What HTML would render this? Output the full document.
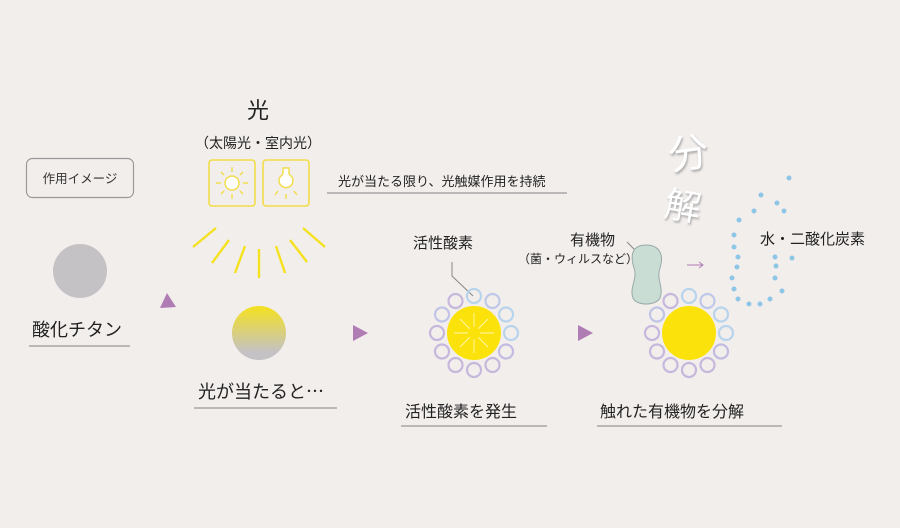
<!DOCTYPE html>
<html><head><meta charset="utf-8"><style>
html,body{margin:0;padding:0;background:#f2eeec;}
svg{display:block;font-family:"Liberation Sans","Noto Sans CJK JP",sans-serif;}
</style></head><body>
<svg width="900" height="528" viewBox="0 0 900 528" xmlns="http://www.w3.org/2000/svg">
<defs>
<linearGradient id="g1" x1="0" y1="0" x2="0" y2="1"><stop offset="0" stop-color="#f5e11e"/><stop offset="0.85" stop-color="#c4c2c4"/></linearGradient>
<g id="ring">
 <g fill="none" stroke-width="2.2">
 <circle cx="0" cy="-37" r="7" stroke="#b8d3ec"/>
 <circle cx="18.5" cy="-32" r="7" stroke="#c0c8ea"/>
 <circle cx="32" cy="-18.5" r="7" stroke="#b8d3ec"/>
 <circle cx="37" cy="0" r="7" stroke="#b8d3ec"/>
 <circle cx="32" cy="18.5" r="7" stroke="#c3bce2"/>
 <circle cx="18.5" cy="32" r="7" stroke="#c6b8dc"/>
 <circle cx="0" cy="37" r="7" stroke="#c6b8dc"/>
 <circle cx="-18.5" cy="32" r="7" stroke="#c6b8dc"/>
 <circle cx="-32" cy="18.5" r="7" stroke="#c6b8dc"/>
 <circle cx="-37" cy="0" r="7" stroke="#c6b8dc"/>
 <circle cx="-32" cy="-18.5" r="7" stroke="#c0c4e6"/>
 <circle cx="-18.5" cy="-32" r="7" stroke="#c6b8dc"/>
 </g>
 <circle cx="0" cy="0" r="27" fill="#fbe20a"/>
</g>
</defs>

<rect x="26.5" y="158.5" width="107" height="39" rx="6" fill="none" stroke="#999" stroke-width="1.2"/>
<text x="80" y="183" font-size="12.5" text-anchor="middle" fill="#333">作用イメージ</text>

<circle cx="80" cy="271" r="27" fill="#c4c2c4"/>
<text x="32" y="336" font-size="18" fill="#222">酸化チタン</text>
<line x1="29" y1="346" x2="130" y2="346" stroke="#999" stroke-width="1.2"/>
<polygon points="167,293 160,308 176,307" fill="#b07cb4"/>

<text x="258" y="118" font-size="22" text-anchor="middle" fill="#222">光</text>
<text x="258" y="148" font-size="14" text-anchor="middle" fill="#222">（太陽光・室内光）</text>
<rect x="209" y="160" width="46" height="46" rx="3" fill="none" stroke="#f2dc4a" stroke-width="1.6"/>
<rect x="263" y="160" width="46" height="46" rx="3" fill="none" stroke="#f2dc4a" stroke-width="1.6"/>
<g stroke="#f2dc4a" stroke-width="1.4">
<circle cx="232" cy="183" r="7" fill="#fff" stroke="#f2dc4a"/>
<line x1="232" y1="167" x2="232" y2="172"/><line x1="232" y1="194" x2="232" y2="199"/>
<line x1="216" y1="183" x2="221" y2="183"/><line x1="243" y1="183" x2="248" y2="183"/>
<line x1="221" y1="172" x2="224" y2="175"/><line x1="240" y1="191" x2="243" y2="194"/>
<line x1="243" y1="172" x2="240" y2="175"/><line x1="221" y1="194" x2="224" y2="191"/>
<path d="M283 168 h6 v6 l3 3 a7 7 0 1 1 -12 0 l3 -3 z" fill="#fff"/>
<line x1="286" y1="194" x2="286" y2="199"/><line x1="278" y1="191" x2="275" y2="195"/><line x1="294" y1="191" x2="297" y2="195"/>
</g>
<text x="338" y="186" font-size="13" fill="#222">光が当たる限り、光触媒作用を持続</text>
<line x1="327" y1="193" x2="567" y2="193" stroke="#999" stroke-width="1.2"/>

<g stroke="#f5e11e" stroke-width="2.4">
<line x1="193" y1="247" x2="216" y2="228"/><line x1="212" y1="263" x2="229" y2="240"/>
<line x1="235" y1="273" x2="245" y2="246"/><line x1="259" y1="278" x2="259" y2="249"/>
<line x1="285" y1="273" x2="276" y2="246"/><line x1="307" y1="262" x2="290" y2="240"/>
<line x1="325" y1="247" x2="303" y2="228"/>
</g>
<circle cx="259" cy="333" r="27" fill="url(#g1)"/>
<text x="198" y="398" font-size="18" fill="#222" style="font-family:'Noto Sans CJK JP',sans-serif">光が当たると…</text>
<line x1="194" y1="408" x2="337" y2="408" stroke="#999" stroke-width="1.2"/>
<polygon points="353,325 353,341 368,333" fill="#b07cb4"/>

<text x="413" y="248" font-size="15" fill="#222">活性酸素</text>
<polyline points="452,262 452,276 473,296" fill="none" stroke="#888" stroke-width="1"/>
<use href="#ring" x="474" y="333"/>
<g stroke="#fff6b0" stroke-width="0.9" fill="none">
<line x1="474" y1="333" x2="474" y2="313"/><line x1="474" y1="333" x2="474" y2="353"/>
<line x1="474" y1="333" x2="454" y2="333"/><line x1="474" y1="333" x2="494" y2="333"/>
<line x1="474" y1="333" x2="488" y2="319"/><line x1="474" y1="333" x2="460" y2="347"/>
<line x1="474" y1="333" x2="460" y2="319"/><line x1="474" y1="333" x2="488" y2="347"/>
</g>
<circle cx="474" cy="333" r="6" fill="#fbe20a"/>
<text x="405" y="417" font-size="16" fill="#222">活性酸素を発生</text>
<line x1="401" y1="426" x2="547" y2="426" stroke="#999" stroke-width="1.2"/>
<polygon points="578,325 578,341 593,333" fill="#b07cb4"/>

<text x="570" y="245" font-size="15" fill="#222">有機物</text>
<text x="518" y="263" font-size="12" fill="#222">（菌・ウィルスなど）</text>
<line x1="627" y1="242" x2="640" y2="255" stroke="#888" stroke-width="1"/>
<path d="M646 245 C660 245 664 255 660 268 C656 278 664 288 660 298 C656 306 636 306 633 298 C629 288 638 278 634 268 C630 255 632 245 646 245 Z" fill="#c9ddd4" stroke="#9aa" stroke-width="1"/>
<line x1="687" y1="265" x2="703" y2="265" stroke="#b07cb4" stroke-width="1"/>
<path d="M699 262 L703 265 L699 268" fill="none" stroke="#b07cb4" stroke-width="1"/>
<use href="#ring" x="689" y="333"/>
<text x="600" y="417" font-size="16" fill="#222">触れた有機物を分解</text>
<line x1="597" y1="426" x2="782" y2="426" stroke="#999" stroke-width="1.2"/>

<g font-size="40" fill="#fff" style="filter:drop-shadow(1px 2px 1px #aaa)">
<text x="668" y="167" transform="rotate(-8 690 150)">分</text>
<text x="666" y="220" transform="rotate(10 690 200)" font-size="36">解</text>
</g>
<g fill="#8ec6e8">
<circle cx="789" cy="178" r="2.5"/><circle cx="761" cy="195" r="2.5"/><circle cx="777" cy="203" r="2.5"/>
<circle cx="754" cy="211" r="2.5"/><circle cx="784" cy="211" r="2.5"/><circle cx="739" cy="220" r="2.5"/>
<circle cx="734" cy="235" r="2.5"/><circle cx="734" cy="247" r="2.5"/><circle cx="738" cy="257" r="2.5"/>
<circle cx="737" cy="267" r="2.5"/><circle cx="732" cy="278" r="2.5"/><circle cx="734" cy="289" r="2.5"/>
<circle cx="738" cy="299" r="2.5"/><circle cx="749" cy="304" r="2.5"/><circle cx="760" cy="304" r="2.5"/>
<circle cx="770" cy="299" r="2.5"/><circle cx="782" cy="291" r="2.5"/><circle cx="775" cy="278" r="2.5"/>
<circle cx="776" cy="266" r="2.5"/><circle cx="775" cy="257" r="2.5"/><circle cx="792" cy="258" r="2.5"/>
</g>
<text x="760" y="244" font-size="15" fill="#222">水・二酸化炭素</text>
</svg>
</body></html>
